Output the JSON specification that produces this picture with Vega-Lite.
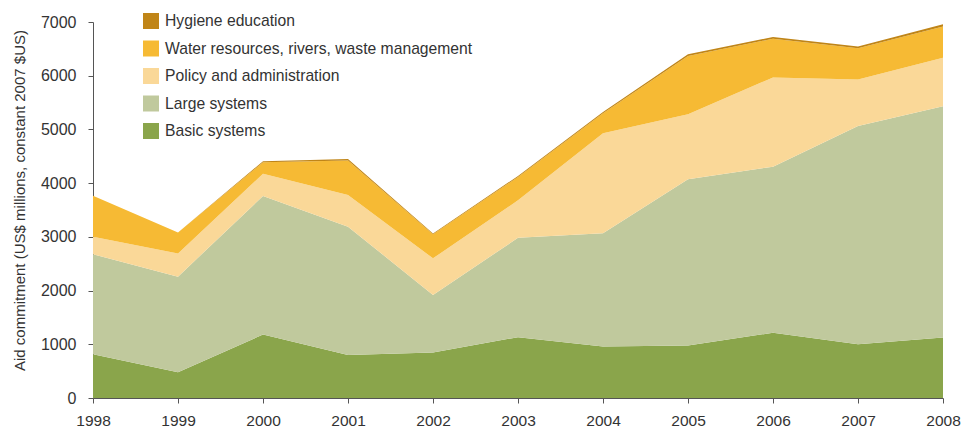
{
  "$schema": "https://vega.github.io/schema/vega-lite/v6.json",
  "autosize": "none",
  "width": 850,
  "height": 376,
  "padding": {"left": 93, "top": 22, "right": 21, "bottom": 31},
  "background": "white",
  "config": {
    "view": {"stroke": null},
    "font": "Liberation Sans"
  },
  "data": {
    "values": [
      {"year": 1998, "sector": "Basic systems", "aid": 813},
      {"year": 1998, "sector": "Large systems", "aid": 1862},
      {"year": 1998, "sector": "Policy and administration", "aid": 325},
      {"year": 1998, "sector": "Water resources, rivers, waste management", "aid": 765},
      {"year": 1998, "sector": "Hygiene education", "aid": 0},
      {"year": 1999, "sector": "Basic systems", "aid": 478},
      {"year": 1999, "sector": "Large systems", "aid": 1781},
      {"year": 1999, "sector": "Policy and administration", "aid": 431},
      {"year": 1999, "sector": "Water resources, rivers, waste management", "aid": 390},
      {"year": 1999, "sector": "Hygiene education", "aid": 0},
      {"year": 2000, "sector": "Basic systems", "aid": 1180},
      {"year": 2000, "sector": "Large systems", "aid": 2580},
      {"year": 2000, "sector": "Policy and administration", "aid": 416},
      {"year": 2000, "sector": "Water resources, rivers, waste management", "aid": 212},
      {"year": 2000, "sector": "Hygiene education", "aid": 20},
      {"year": 2001, "sector": "Basic systems", "aid": 800},
      {"year": 2001, "sector": "Large systems", "aid": 2390},
      {"year": 2001, "sector": "Policy and administration", "aid": 588},
      {"year": 2001, "sector": "Water resources, rivers, waste management", "aid": 642},
      {"year": 2001, "sector": "Hygiene education", "aid": 30},
      {"year": 2002, "sector": "Basic systems", "aid": 847},
      {"year": 2002, "sector": "Large systems", "aid": 1071},
      {"year": 2002, "sector": "Policy and administration", "aid": 682},
      {"year": 2002, "sector": "Water resources, rivers, waste management", "aid": 450},
      {"year": 2002, "sector": "Hygiene education", "aid": 12},
      {"year": 2003, "sector": "Basic systems", "aid": 1133},
      {"year": 2003, "sector": "Large systems", "aid": 1850},
      {"year": 2003, "sector": "Policy and administration", "aid": 697},
      {"year": 2003, "sector": "Water resources, rivers, waste management", "aid": 435},
      {"year": 2003, "sector": "Hygiene education", "aid": 20},
      {"year": 2004, "sector": "Basic systems", "aid": 960},
      {"year": 2004, "sector": "Large systems", "aid": 2108},
      {"year": 2004, "sector": "Policy and administration", "aid": 1860},
      {"year": 2004, "sector": "Water resources, rivers, waste management", "aid": 372},
      {"year": 2004, "sector": "Hygiene education", "aid": 25},
      {"year": 2005, "sector": "Basic systems", "aid": 978},
      {"year": 2005, "sector": "Large systems", "aid": 3094},
      {"year": 2005, "sector": "Policy and administration", "aid": 1210},
      {"year": 2005, "sector": "Water resources, rivers, waste management", "aid": 1083},
      {"year": 2005, "sector": "Hygiene education", "aid": 35},
      {"year": 2006, "sector": "Basic systems", "aid": 1215},
      {"year": 2006, "sector": "Large systems", "aid": 3092},
      {"year": 2006, "sector": "Policy and administration", "aid": 1661},
      {"year": 2006, "sector": "Water resources, rivers, waste management", "aid": 722},
      {"year": 2006, "sector": "Hygiene education", "aid": 30},
      {"year": 2007, "sector": "Basic systems", "aid": 1003},
      {"year": 2007, "sector": "Large systems", "aid": 4061},
      {"year": 2007, "sector": "Policy and administration", "aid": 864},
      {"year": 2007, "sector": "Water resources, rivers, waste management", "aid": 584},
      {"year": 2007, "sector": "Hygiene education", "aid": 30},
      {"year": 2008, "sector": "Basic systems", "aid": 1127},
      {"year": 2008, "sector": "Large systems", "aid": 4303},
      {"year": 2008, "sector": "Policy and administration", "aid": 906},
      {"year": 2008, "sector": "Water resources, rivers, waste management", "aid": 582},
      {"year": 2008, "sector": "Hygiene education", "aid": 40}
    ]
  },
  "transform": [
    {"calculate": "indexof(['Basic systems','Large systems','Policy and administration','Water resources, rivers, waste management','Hygiene education'], datum.sector)", "as": "stackOrder"}
  ],
  "mark": {"type": "area", "interpolate": "linear"},
  "encoding": {
    "x": {
      "field": "year",
      "type": "quantitative",
      "scale": {"domain": [1998, 2008], "nice": false, "zero": false},
      "axis": {
        "values": [1998, 1999, 2000, 2001, 2002, 2003, 2004, 2005, 2006, 2007, 2008],
        "format": "d",
        "title": null,
        "grid": false,
        "domainColor": "#555555",
        "tickColor": "#555555",
        "tickSize": 5,
        "labelFontSize": 15.5,
        "labelColor": "#333333",
        "labelPadding": 10,
        "labelFlush": false
      }
    },
    "y": {
      "field": "aid",
      "type": "quantitative",
      "stack": "zero",
      "scale": {"domain": [0, 7000], "nice": false},
      "axis": {
        "values": [0, 1000, 2000, 3000, 4000, 5000, 6000, 7000],
        "format": "d",
        "title": "Aid commitment (US$ millions, constant 2007 $US)",
        "titleFontSize": 15,
        "titleFontWeight": "normal",
        "titleColor": "#333333",
        "titleX": -74,
        "titleY": 178,
        "titleAngle": -90,
        "titleAlign": "center",
        "titleBaseline": "middle",
        "grid": false,
        "domainColor": "#555555",
        "tickColor": "#555555",
        "tickSize": 5,
        "labelFontSize": 16,
        "labelColor": "#333333",
        "labelPadding": 12
      }
    },
    "order": {"field": "stackOrder", "type": "quantitative", "sort": "ascending"},
    "color": {
      "field": "sector",
      "type": "nominal",
      "scale": {
        "domain": ["Hygiene education", "Water resources, rivers, waste management", "Policy and administration", "Large systems", "Basic systems"],
        "range": ["#C08517", "#F6BA34", "#FAD898", "#C0C99D", "#8AA54B"]
      },
      "legend": {
        "title": null,
        "orient": "none",
        "legendX": 50,
        "legendY": -9,
        "padding": 0,
        "symbolType": "square",
        "symbolSize": 256,
        "symbolStrokeWidth": 0,
        "symbolOpacity": 1,
        "labelFontSize": 15.7,
        "labelColor": "#333333",
        "labelOffset": 6,
        "rowPadding": 11.5,
        "labelLimit": 400
      }
    }
  }
}
